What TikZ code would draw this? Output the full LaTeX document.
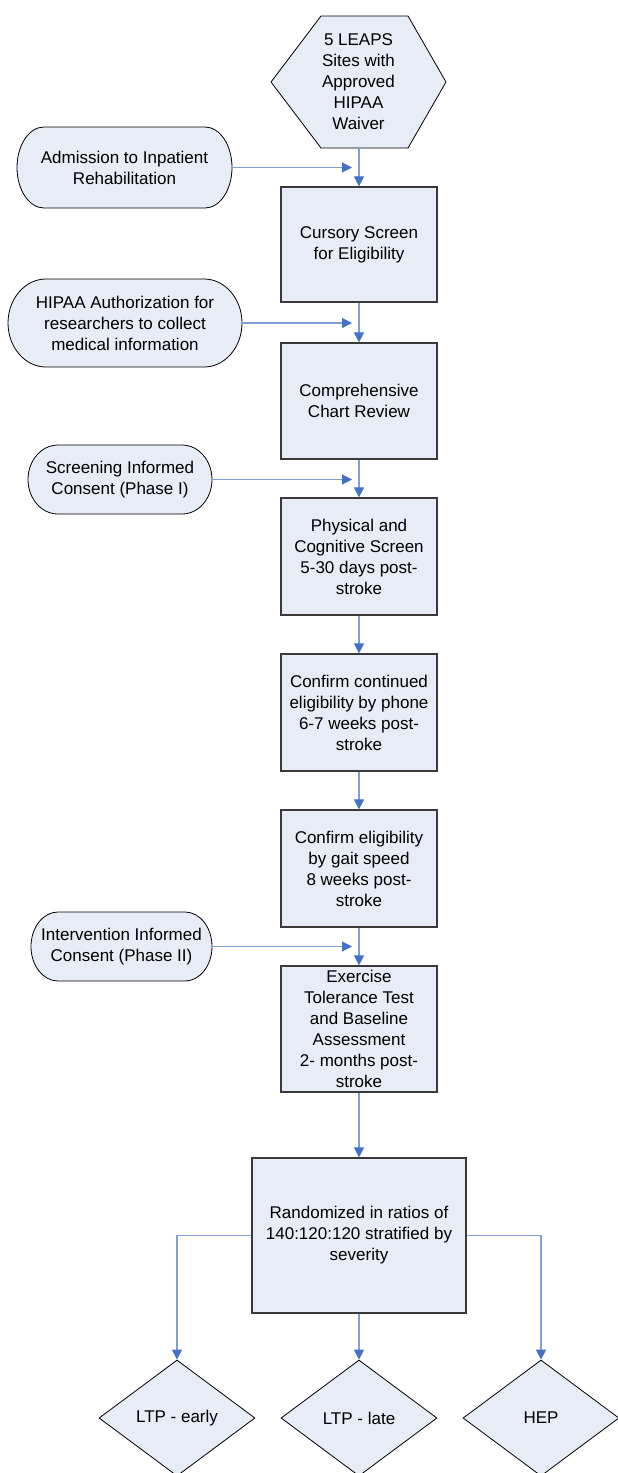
\documentclass[tikz,border=0pt]{standalone}
\usepackage{fontspec}
\setmainfont{Liberation Sans}
\usetikzlibrary{arrows.meta,shapes.geometric}
\definecolor{boxfill}{HTML}{E7ECF6}
\definecolor{linkblue}{HTML}{7EA0D8}
\definecolor{tipblue}{HTML}{4472C4}
\definecolor{boxline}{HTML}{3A3A3A}
% pill outline: left, top, right, bottom, horizontal end radius
\newcommand\pillshape[5]{%
  \filldraw[pillline] ({#1+#5},#2) -- ({#3-#5},#2)
    arc[start angle=-90,end angle=90,x radius=#5,y radius={(#4-#2)/2}]
    -- ({#1+#5},#4)
    arc[start angle=90,end angle=270,x radius=#5,y radius={(#4-#2)/2}] -- cycle;}
\begin{document}
\begin{tikzpicture}[x=1pt,y=-1pt,
  every node/.style={font=\fontsize{17}{21}\selectfont, align=center, inner sep=0pt},
  stepbox/.style={draw=boxline, line width=1.2pt, fill=boxfill, minimum width=156pt},
  pillline/.style={draw=black, line width=0.8pt, fill=boxfill},
  pilltext/.style={minimum width=#1},
  link/.style={draw=linkblue, line width=1.1pt, -{Triangle[width=10pt,length=10pt,color=tipblue]}},
  choice/.style={diamond, draw=black, line width=0.8pt, fill=boxfill, minimum width=156pt, minimum height=116pt}]
\useasboundingbox (0,0) rectangle (618,1473);
\fill[white] (0,0) rectangle (618,1473);

% hexagon
\filldraw[draw=black,line width=0.8pt,fill=boxfill] (321,16) -- (408,16) -- (446,82) -- (408,148) -- (321,148) -- (271,82) -- cycle;
\node (hex) at (358.5,82) {5 LEAPS\\Sites with\\Approved\\HIPAA\\Waiver};
\coordinate (hexbot) at (359,148);

% main boxes
\node[stepbox, minimum height=115pt] (cursory) at (359,244.5) {Cursory Screen\\for Eligibility};
\node[stepbox, minimum height=116pt] (chart) at (359,401) {Comprehensive\\Chart Review};
\node[stepbox, minimum height=117pt] (phys) at (359,556.5) {Physical and\\Cognitive Screen\\5-30 days post-\\stroke};
\node[stepbox, minimum height=117pt] (phone) at (359,712.5) {Confirm continued\\eligibility by phone\\6-7 weeks post-\\stroke};
\node[stepbox, minimum height=117pt] (gait) at (359,868.5) {Confirm eligibility\\by gait speed\\8 weeks post-\\stroke};
\node[stepbox, minimum height=126pt] (ett) at (359,1029) {Exercise\\Tolerance Test\\and Baseline\\Assessment\\2- months post-\\stroke};
\node[stepbox, minimum width=214pt, minimum height=155pt] (rand) at (359,1235.5) {Randomized in ratios of\\140:120:120 stratified by\\severity};

% outcome diamonds
\node[choice] (early) at (177,1418) {LTP - early};
\node[choice] (late) at (359,1418) {LTP - late};
\node[choice] (hep) at (541,1418) {HEP};

% side pills
\pillshape{17}{127}{232}{208}{27}
\node[pilltext=215pt, minimum height=81pt] (adm) at (124.5,167.5) {Admission to Inpatient\\Rehabilitation};
\pillshape{8}{279}{242}{367}{38}
\node[pilltext=234pt, minimum height=88pt] (auth) at (125,323) {HIPAA Authorization for\\researchers to collect\\medical information};
\pillshape{28}{445}{212}{514}{30}
\node[pilltext=184pt, minimum height=69pt] (scr) at (120,479.5) {Screening Informed\\Consent (Phase I)};
\pillshape{31}{912}{212}{981}{27}
\node[pilltext=181pt, minimum height=69pt] (int) at (121.5,946.5) {Intervention Informed\\Consent (Phase II)};

\coordinate (j1) at (352,167.5);
\coordinate (j2) at (352,323);
\coordinate (j3) at (352,479.5);
\coordinate (j4) at (352,946.5);

% connectors
\draw[link] (hexbot) -- (cursory.north);
\draw[link] (cursory.south) -- (chart.north);
\draw[link] (chart.south) -- (phys.north);
\draw[link] (phys.south) -- (phone.north);
\draw[link] (phone.south) -- (gait.north);
\draw[link] (gait.south) -- (ett.north);
\draw[link] (ett.south) -- (rand.north);
\draw[link] (adm.east) -- (j1);
\draw[link] (auth.east) -- (j2);
\draw[link] (scr.east) -- (j3);
\draw[link] (int.east) -- (j4);
\draw[link] (rand.west) -| (early.north);
\draw[link] (rand.south) -- (late.north);
\draw[link] (rand.east) -| (hep.north);
\end{tikzpicture}
\end{document}
